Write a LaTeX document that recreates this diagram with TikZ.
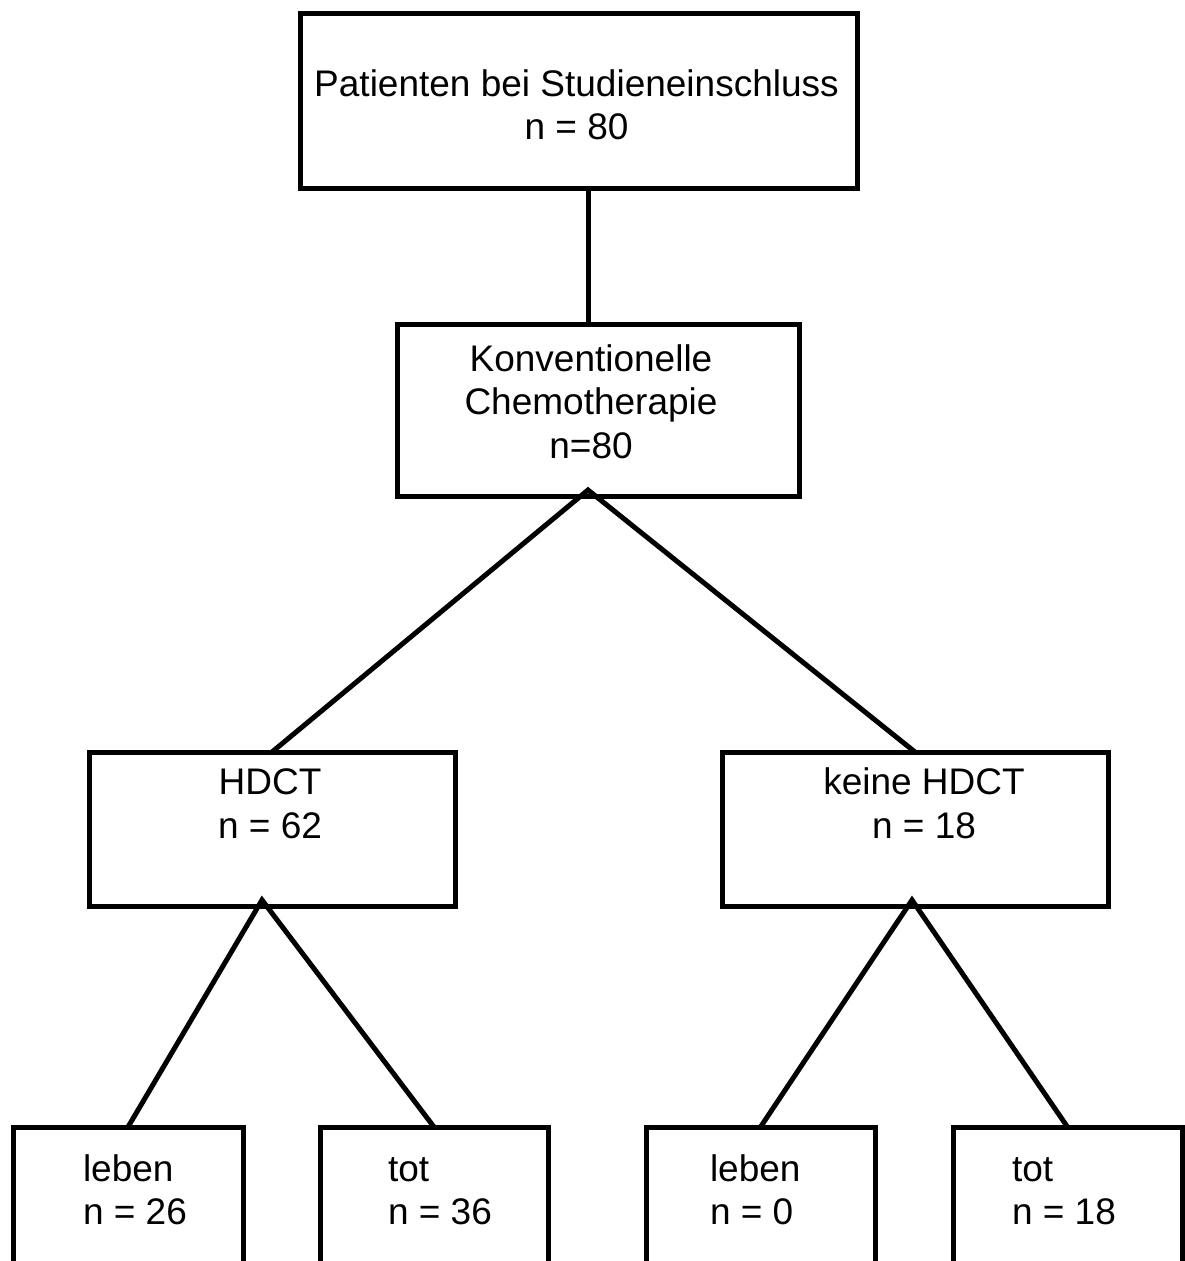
\documentclass[tikz,border=0pt]{standalone}
\usepackage{fontspec}
\setmainfont{Liberation Sans}
\usepackage{tikz}
\usetikzlibrary{positioning}
\usetikzlibrary{calc}

\begin{document}
\begin{tikzpicture}[x=1pt,y=-1pt,line width=5pt,every node/.style={inner sep=0,outer sep=0,font=\fontsize{37}{43.5}\selectfont},
	box/.style={draw},
	txt/.style={align=center}]
	\clip (0,0) rectangle (1185,1261);
	% boxes
	\node (P) [box,minimum width=557,minimum height=175] at (578.5,100.5) {};
	\node (M) [box,minimum width=402,minimum height=172] at (598,410) {};
	\node (H) [box,minimum width=366,minimum height=154] at (272,829) {};
	\node (K) [box,minimum width=386,minimum height=154] at (915,829) {};
	\node (L1) [box,minimum width=230,minimum height=200] at (128,1227) {};
	\node (T1) [box,minimum width=228,minimum height=200] at (434,1227) {};
	\node (L2) [box,minimum width=229,minimum height=200] at (760.5,1227) {};
	\node (T2) [box,minimum width=229,minimum height=200] at (1067.5,1227) {};
	% texts
	\node (Pt) [txt,below=53pt of P.north,xshift=-2pt] {\strut Patienten bei Studieneinschluss\\n = 80};
	\node (Mt) [txt,below=17pt of M.north,xshift=-7pt] {\strut Konventionelle\\Chemotherapie\\n=80};
	\node (Ht) [txt,below=12.5pt of H.north,xshift=-2pt] {\strut HDCT\\n = 62};
	\node (Kt) [txt,below=12.5pt of K.north,xshift=9pt] {\strut keine HDCT\\n = 18};
	\node (L1t) [txt,align=left,below right=24pt and 70pt of L1.north west] {\strut leben\\n = 26};
	\node (T1t) [txt,align=left,below right=24pt and 68pt of T1.north west] {\strut tot\\n = 36};
	\node (L2t) [txt,align=left,below right=24pt and 64pt of L2.north west] {\strut leben\\n = 0};
	\node (T2t) [txt,align=left,below right=24pt and 59pt of T2.north west] {\strut tot\\n = 18};
	% connectors
	\coordinate (p1) at ($(P.south)+(9.5,0)$);
	\coordinate (m1) at ($(M.south)+(-10,-6)$);
	\coordinate (h1) at ($(H.south)+(-10,-6)$);
	\coordinate (k1) at ($(K.south)+(-3,-6)$);
	\draw (p1) -- (p1 |- M.north);
	\draw (H.north) -- (m1) -- (K.north);
	\draw (L1.north) -- (h1) -- (T1.north);
	\draw (L2.north) -- (k1) -- (T2.north);
\end{tikzpicture}
\end{document}
